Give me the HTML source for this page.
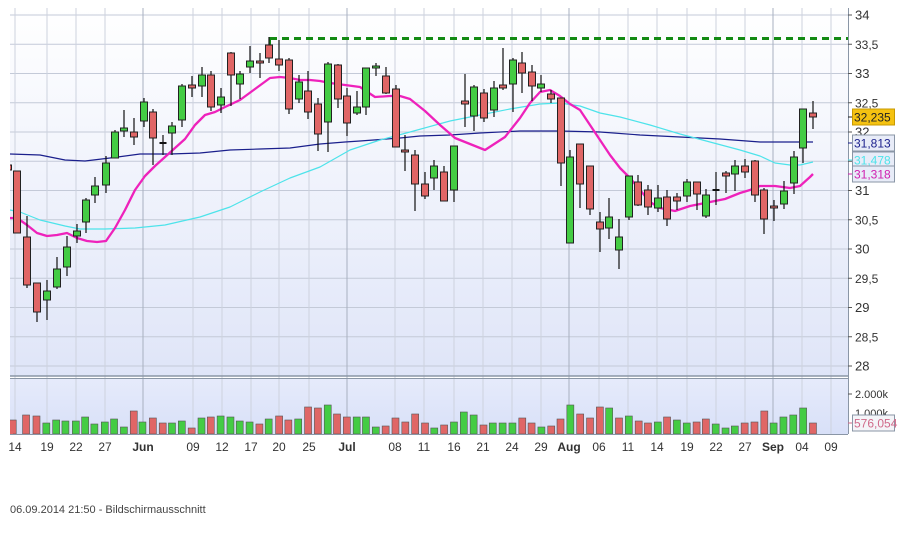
<!DOCTYPE html>
<html><head><meta charset="utf-8"><style>
body{margin:0;background:#fff;width:906px;height:543px;overflow:hidden;font-family:"Liberation Sans",sans-serif}
</style></head><body>
<svg id="s" width="906" height="543" xmlns="http://www.w3.org/2000/svg" font-family="Liberation Sans, sans-serif">
<defs>
<linearGradient id="g1" x1="0" y1="0" x2="0" y2="1"><stop offset="0" stop-color="#ffffff"/><stop offset="1" stop-color="#dfe5f8"/></linearGradient>
<linearGradient id="g2" x1="0" y1="0" x2="0" y2="1"><stop offset="0" stop-color="#e6ebfb"/><stop offset="1" stop-color="#d8e0f8"/></linearGradient>
<clipPath id="cp"><rect x="10" y="0" width="838" height="440"/></clipPath>
</defs>
<rect x="10" y="8" width="838" height="368" fill="url(#g1)"/>
<rect x="10" y="378" width="838" height="56" fill="url(#g2)"/>
<g id="grid"></g>
<g clip-path="url(#cp)">
<g id="ma"></g>
<g id="cd"></g>
<g id="vol"></g>
</g>
<line x1="10" y1="376" x2="848" y2="376" stroke="#8a96a6" stroke-width="1.5"/>
<line x1="10" y1="378.5" x2="848" y2="378.5" stroke="#8a96a6" stroke-width="1"/>
<line x1="10" y1="434.5" x2="848" y2="434.5" stroke="#8a96a6" stroke-width="1"/>
<line x1="848.5" y1="8" x2="848.5" y2="434" stroke="#8a96a6" stroke-width="1"/>
<g id="ax" font-size="12" fill="#333"></g>
<text x="10" y="513" font-size="11" fill="#444">06.09.2014 21:50 - Bildschirmausschnitt</text>
</svg>
<script>
const NS="http://www.w3.org/2000/svg";
function el(p,t,a,txt){const e=document.createElementNS(NS,t);for(const k in a)e.setAttribute(k,a[k]);if(txt!==undefined)e.textContent=txt;document.getElementById(p).appendChild(e);return e;}
const Y=p=>15+(34-p)*58.5;
for(let p=28;p<=34.001;p+=0.5){const y=Y(p);
 el('grid','line',{x1:10,x2:848,y1:y,y2:y,stroke:'#c4cad8','stroke-width':1});
 el('ax','line',{x1:848,x2:852,y1:y,y2:y,stroke:'#555'});
 let s=(Math.round(p*10)/10).toString().replace('.',',');
 el('ax','text',{x:855,y:y+4.5,'font-size':(p%1===0?13:12)},s);
}
const dates=[[15,'14'],[47,'19'],[76,'22'],[105,'27'],[143,'Jun',1],[193,'09'],[222,'12'],[251,'17'],[279,'20'],[309,'25'],[347,'Jul',1],[395,'08'],[424,'11'],[454,'16'],[483,'21'],[512,'24'],[541,'29'],[569,'Aug',1],[599,'06'],[628,'11'],[657,'14'],[687,'19'],[716,'22'],[745,'27'],[773,'Sep',1],[802,'04'],[831,'09']];
dates.forEach(d=>{
 el('grid','line',{x1:d[0],x2:d[0],y1:8,y2:434,stroke:d[2]?'#a8b0c0':'#cdd2de','stroke-width':1});
 el('ax','text',{x:d[0],y:451,'text-anchor':'middle','font-size':12,'font-weight':d[2]?'bold':'normal'},d[1]);
});
function pl(pts,c,w){el('ma','polyline',{points:pts.map(p=>p.join(',')).join(' '),fill:'none',stroke:c,'stroke-width':w,'stroke-linejoin':'round'});}
pl([[10,154],[40,155],[65,160],[85,161],[110,158],[140,154],[170,154],[200,153],[230,150],[260,149],[290,148],[320,144],[345,142],[360,141],[400,138],[420,136],[450,135],[480,133],[520,131],[560,131],[600,132],[640,135],[680,137],[720,139],[760,142],[813,142]],'#1a1f8c',1.2);
pl([[10,210],[20,212],[40,220],[65,226],[80,229],[105,229],[135,228],[165,225],[200,217],[230,207],[260,192],[290,178],[320,167],[350,150],[380,140],[410,132],[450,121],[480,115],[510,109],[540,104],[560,103],[580,106],[600,113],[620,117],[650,125],[680,134],[710,142],[740,150],[760,156],[775,163],[790,165],[800,165],[813,162]],'#4de3ea',1.2);
pl([[10,218],[17,218],[27,225],[37,233],[47,236],[57,235],[67,233],[77,238],[87,241],[97,242],[106,241],[115,228],[125,210],[135,190],[145,176],[155,166],[165,157],[175,148],[185,139],[195,125],[205,115],[215,112],[225,107],[240,100],[255,89],[270,78],[280,77],[290,78],[300,80],[310,80],[320,81],[330,83],[345,85],[360,87],[375,97],[390,96],[400,96],[410,99],[425,111],[440,125],[455,138],[470,144],[485,150],[505,137],[520,118],[530,103],[540,92],[550,90],[560,96],[570,104],[580,110],[590,125],[600,140],[610,155],[620,168],[630,178],[640,190],[650,202],[660,208],[675,211],[690,206],[700,204],[715,201],[725,199],[740,193],[750,190],[760,186],[775,186],[790,188],[800,186],[810,177],[813,174]],'#ee22bb',2.3);
el('ma','line',{x1:270,x2:848,y1:38.5,y2:38.5,stroke:'#138a13','stroke-width':3,'stroke-dasharray':'7,5'});
el('ma','line',{x1:270,x2:270,y1:37,y2:45,stroke:'#138a13','stroke-width':2});
const C=[[8,165,170,165,170,0],[17,171,233,171,233,0],[27,237,285,216,288,0],[37,283,312,283,322,0],[47,291,300,280,320,1],[57,269,287,257,289,1],[67,247,267,236,276,1],[77,231,236,224,243,1],[86,200,222,198,233,1],[95,186,195,177,203,1],[106,163,185,156,193,1],[115,132,158,130,158,1],[124,128,131,110,137,1],[134,132,137,118,145,0],[144,102,121,98,127,1],[153,112,138,109,165,0],[163,142.5,143.5,135,155,1],[172,126,133,122,155,1],[182,86,120,84,127,1],[192,85,88,76,97,0],[202,75,86,67,97,1],[211,75,107,71,111,0],[221,97,105,88,113,1],[231,53,75,52,106,0],[240,74,84,71,99,1],[250,61,67,46,73,1],[260,61,63,53,78,0],[269,45,58,37,63,0],[279,59,65,40,71,0],[289,60,109,58,114,0],[299,82,99,75,103,1],[308,91,112,71,119,0],[318,104,134,98,151,0],[328,64,122,62,152,1],[338,65,99,64,108,0],[347,96,123,88,136,0],[357,107,113,91,115,1],[366,68,107,68,115,1],[376,66,68,63,76,1],[386,76,93,67,94,0],[396,89,147,85,147,0],[405,150,152,135,171,0],[415,155,184,150,211,0],[425,184,196,172,199,0],[434,166,178,160,190,1],[444,172,201,166,201,0],
[454,146,190,146,202,1],[465,101,104,74,127,0],[474,87,116,85,131,1],[484,93,118,89,122,0],[494,88,110,81,117,1],[503,85,88,48,90,0],[513,60,84,58,112,1],[522,63,73,52,93,0],[532,72,86,65,101,0],[541,84,88,75,92,1],[551,94,99,90,103,0],[561,98,163,98,186,0],[570,157,243,150,243,1],[580,144,184,144,208,0],[590,166,209,166,215,0],[600,222,229,212,252,0],[609,217,228,198,239,1],[619,237,250,219,269,1],[629,176,217,176,220,1],[638,182,205,175,206,0],[648,190,207,185,215,0],[658,198,208,185,212,1],[667,197,219,190,226,0],[677,197,201,193,210,0],[687,182,196,179,202,1],[697,182,194,182,210,0],[706,195,216,189,218,1],[716,189.5,190.5,172,205,1],[726,173,176,171,193,0],[735,166,174,160,191,1],[745,166,172,159,178,0],[755,161,195,160,202,0],[764,190,219,188,234,0],[774,206,208,200,221,0],[784,191,204,181,209,1],[794,157,183,151,194,1],[803,109,148,109,163,1],[813,113,117,101,129,0]];
C.forEach(c=>{
 el('cd','line',{x1:c[0],x2:c[0],y1:c[3],y2:c[4],stroke:'#111','stroke-width':1.2});
 const h=c[2]-c[1];
 if(h<2){el('cd','line',{x1:c[0]-3.5,x2:c[0]+3.5,y1:c[1]+0.5,y2:c[1]+0.5,stroke:'#111','stroke-width':2});}
 else el('cd','rect',{x:c[0]-3.5,y:c[1],width:7,height:h,fill:c[5]?'#44cc44':'#e06666',stroke:'#222','stroke-width':1});
});
const V=[[18,192,0],[22,180,0],[45,165,0],[63,168,0],[80,189,1],[97,180,1],[113,183,1],[131,183,1],[147,171,1],[163,192,1],[181,186,1],[197,177,1],[214,201,1],[231,153,0],[246,186,1],[264,174,0],[281,189,0],[297,189,1],[314,183,1],[331,204,0],[348,174,1],[364,171,0],[381,168,1],[398,171,1],[414,183,1],[431,186,1],[448,192,0],[464,177,1],[482,168,0],[498,180,0],[515,177,1],[532,141,0],[549,144,0],[566,135,1],[582,162,0],[599,171,0],[616,171,1],[632,171,1],[649,201,1],[666,198,0],[683,174,0],[700,186,0],[717,162,0],[734,189,0],[750,204,1],[767,195,0],[784,186,1],[801,156,1],[818,165,1],[835,195,0],[851,189,1],[868,189,1],[885,189,1],[902,174,0],[918,189,0],[935,201,1],[952,198,0],[968,177,0],[985,135,1],[1002,162,0],[1019,174,0],[1036,141,0],[1052,144,1],[1069,174,0],[1086,168,1],[1103,183,0],[1119,189,0],[1136,186,1],[1152,171,0],[1169,180,1],[1186,189,1],[1203,186,0],[1219,177,0],[1236,192,1],[1253,204,1],[1269,198,1],[1286,189,0],[1303,186,0],[1320,153,0],[1336,189,1],[1353,171,1],[1370,165,1],[1387,144,1],[1404,189,0]];
V.forEach((v,i)=>{if(i===0)return;const x=v[0]/1.727;const t=360+v[1]/3;
 el('vol','rect',{x:x-3.5,y:t,width:7,height:434-t,fill:v[2]?'#44cc44':'#e06666',stroke:'#555','stroke-width':0.6});});
el('vol','rect',{x:10,y:424,width:3,height:10,fill:'#e06666'});
el('ax','line',{x1:848,x2:852,y1:394,y2:394,stroke:'#555'});
el('ax','text',{x:855,y:398,'font-size':11},'2.000k');
el('ax','text',{x:855,y:417,'font-size':11},'1.000k');
function box(y,txt,col,bg,bd){el('ax','line',{x1:848,x2:852,y1:y+8,y2:y+8,stroke:col});el('ax','rect',{x:852.5,y:y,width:42,height:16,fill:bg,stroke:bd});el('ax','text',{x:854,y:y+12.5,fill:col,'font-size':12},txt);}
box(109,'32,235','#222','#f5c211','#c89a00');
box(135,'31,813','#1a1f8c','#e8ecf8','#8a96a6');
box(152,'31,478','#4de3ea','#e8ecf8','#8a96a6');
box(166,'31,318','#d020b0','#e8ecf8','#8a96a6');
box(415,'576,054','#d06a8a','#f4f4f8','#8a96a6');
</script>
</body></html>
